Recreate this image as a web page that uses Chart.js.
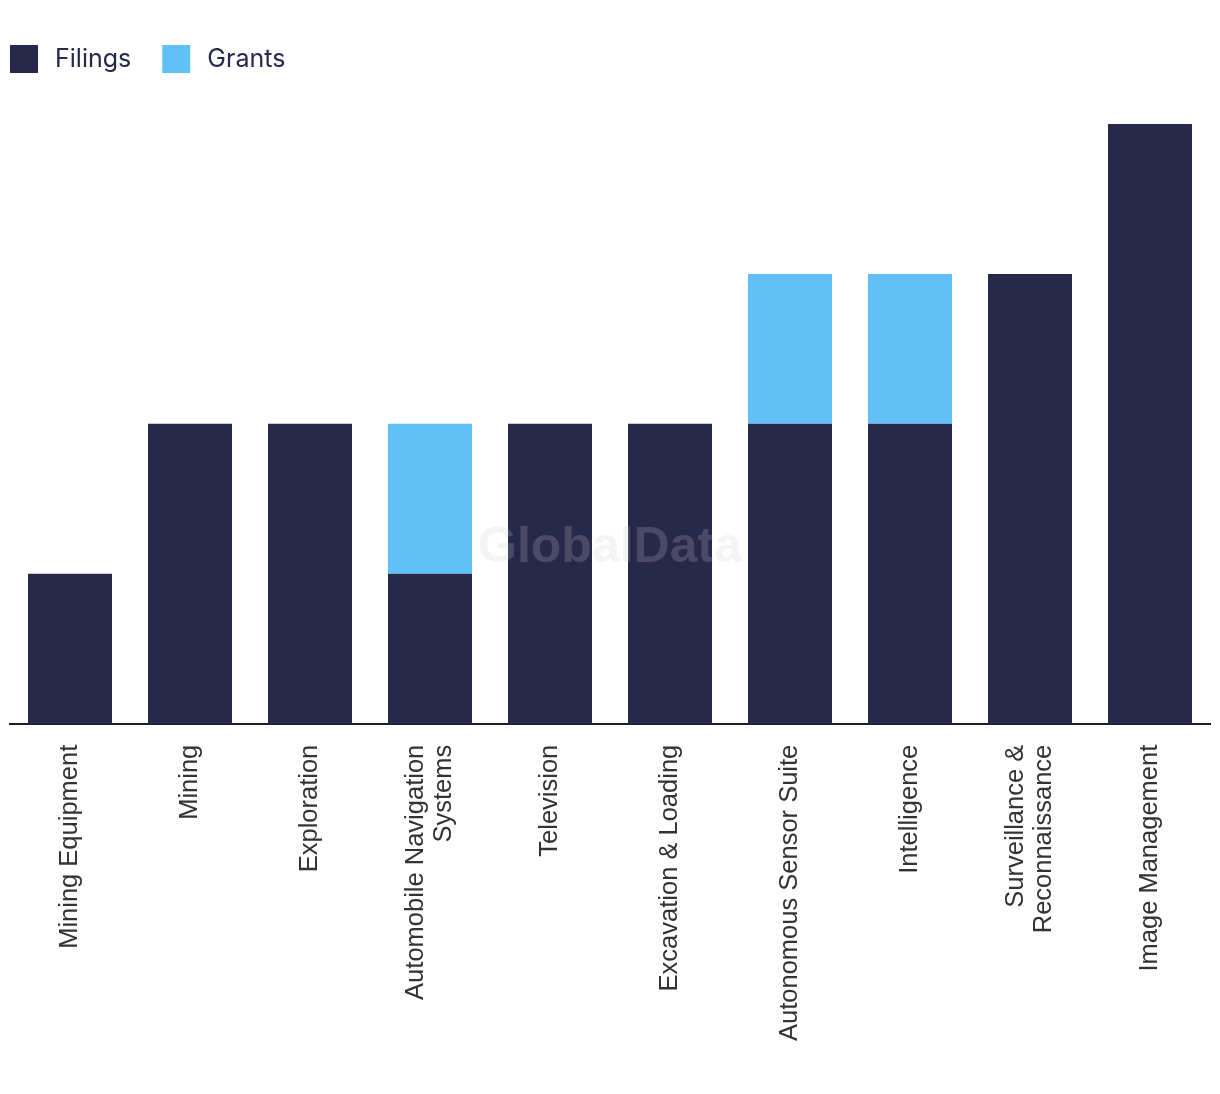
<!DOCTYPE html>
<html><head><meta charset="utf-8">
<script src="https://cdn.jsdelivr.net/npm/chart.js@4"></script>
<style>html,body{margin:0;padding:0;background:#fff}#wrap{width:1220px;height:1094px}</style>
</head><body><div id="wrap"><canvas id="c" width="1220" height="1094"></canvas></div>
<script>
const categories = [
  "Mining Equipment", "Mining", "Exploration", ["Automobile Navigation", "Systems"],
  "Television", "Excavation & Loading", "Autonomous Sensor Suite", "Intelligence",
  ["Surveillance &", "Reconnaissance"], "Image Management"
];
const filings = [1, 2, 2, 1, 2, 2, 2, 2, 3, 4];
const grants  = [0, 0, 0, 1, 0, 0, 1, 1, 0, 0];
const seriesNames = ["Filings", "Grants"];

const watermark = {
  id: 'watermark',
  afterDatasetsDraw(chart) {
    const ctx = chart.ctx;
    ctx.save();
    ctx.font = 'bold 50px "Liberation Sans", Arial, sans-serif';
    ctx.fillStyle = 'rgba(203,203,212,0.21)';
    ctx.textAlign = 'center';
    ctx.textBaseline = 'middle';
    ctx.fillText('GlobalData', 610, 548);
    ctx.restore();
  }
};

const legendMargin = {
  id: 'legendMargin',
  beforeInit(chart) {
    const lg = chart.legend;
    const orig = lg.fit;
    lg.fit = function () { orig.call(this); this.height += 41; };
  }
};

// center multi-line rotated tick labels on their category
const centerMultiline = {
  id: 'centerMultiline',
  beforeDraw(chart) {
    const sx = chart.scales.x;
    const items = sx.getLabelItems(chart.chartArea);
    items.forEach(it => {
      if (Array.isArray(it.label) && it.label.length > 1 && !it._shifted) {
        const lh = it.font.lineHeight;
        it.options.translation[0] -= (it.label.length - 1) * lh / 2;
        it._shifted = true;
      }
    });
  }
};

new Chart(document.getElementById('c'), {
  type: 'bar',
  data: {
    labels: categories,
    datasets: [
      { label: seriesNames[0], data: filings, backgroundColor: '#28284a', barPercentage: 0.7, categoryPercentage: 1 },
      { label: seriesNames[1], data: grants, backgroundColor: '#62c0f8', barPercentage: 0.7, categoryPercentage: 1 }
    ]
  },
  options: {
    responsive: false,
    animation: false,
    layout: { padding: { left: 0, right: 10, top: 35, bottom: 32 } },
    plugins: {
      legend: {
        position: 'top', align: 'start',
        labels: {
          boxWidth: 28, boxHeight: 28, padding: 10, color: '#28284a',
          font: { family: 'Inter, "Liberation Sans", sans-serif', size: 25 },
          generateLabels(chart) {
            const items = Chart.defaults.plugins.legend.labels.generateLabels(chart);
            items.forEach((it, i) => { it.text = '\u2009' + it.text + (i === 0 ? '\u2002\u2005\u200A' : ''); it.lineWidth = 0; });
            return items;
          }
        }
      },
      tooltip: { enabled: false }
    },
    scales: {
      x: {
        stacked: true,
        grid: { display: false, drawTicks: false },
        border: { display: true, color: '#1c1c30', width: 2 },
        ticks: { autoSkip: false, minRotation: 90, maxRotation: 90, padding: 21, color: '#333',
          font: { family: '"Liberation Sans", Arial, sans-serif', size: 25.5, lineHeight: 1.1 } }
      },
      y: {
        stacked: true, display: true, min: 0, max: 4,
        grid: { display: false, drawTicks: false }, border: { display: false },
        ticks: { display: false },
        afterFit(scale) { scale.width = 10; }
      }
    }
  },
  plugins: [legendMargin, centerMultiline, watermark]
});
</script></body></html>
